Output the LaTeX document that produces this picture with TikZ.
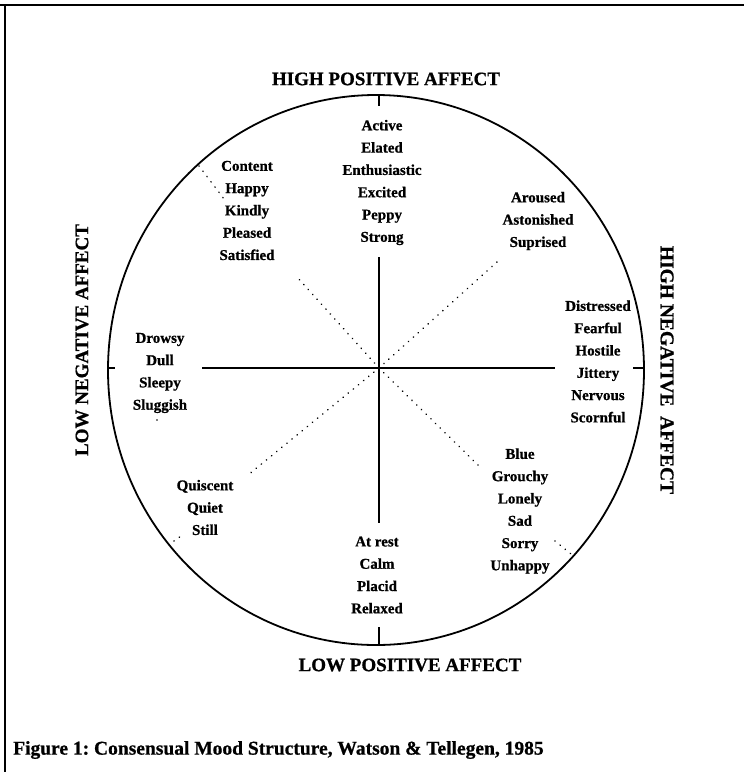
\documentclass[tikz,border=0pt]{standalone}
\usepackage{fontspec}
\setmainfont{Liberation Serif}[BoldFeatures={FakeBold=0.8}]
\frenchspacing
\begin{document}
\begin{tikzpicture}[x=1pt,y=-1pt,
  words/.style={font=\bfseries\fontsize{15}{22.3}\selectfont, align=center, inner sep=0pt},
  axislabel/.style={font=\bfseries\fontsize{19}{22}\selectfont, inner sep=0pt},
  rim/.style={line width=1.8pt},
  axisline/.style={line width=1.4pt},
  dotline/.style={line width=1.7pt, dash pattern=on 0.1pt off 6.5pt, line cap=round},
  frameline/.style={line width=2pt}]
\useasboundingbox (0,0) rectangle (744,772);

% frame edges (top and left)
\coordinate (fTL) at (5,5);
\coordinate (fTR) at (744,5);
\coordinate (fBL) at (5,772);
\draw[frameline] (0,5) -- (fTR);
\draw[frameline] (fTL) -- (fBL);

% the mood circle
\coordinate (C) at (376,370);
\draw[rim] (C) ellipse [x radius=268pt, y radius=275pt];

% axes
\coordinate (O) at (379,368);
\coordinate (vTop1) at (379,95);   \coordinate (vTop2) at (379,106);
\coordinate (vIn1) at (379,257);   \coordinate (vIn2) at (379,523);
\coordinate (vBot1) at (379,627);  \coordinate (vBot2) at (379,645);
\coordinate (hL1) at (107,368);    \coordinate (hL2) at (115,368);
\coordinate (hIn1) at (202,368);   \coordinate (hIn2) at (555,368);
\coordinate (hR1) at (633,368);    \coordinate (hR2) at (643,368);
\draw[axisline] (vTop1) -- (vTop2);
\draw[axisline] (vIn1) -- (vIn2);
\draw[axisline] (vBot1) -- (vBot2);
\draw[axisline] (hL1) -- (hL2);
\draw[axisline] (hIn1) -- (hIn2);
\draw[axisline] (hR1) -- (hR2);

% dotted diagonals
\coordinate (dUL) at (297,277);
\coordinate (dLR) at (478,465);
\coordinate (dLL) at (248,475);
\coordinate (dUR) at (497,262);
\draw[dotline] (O) -- (dUL);
\draw[dotline] (O) -- (dLR);
\draw[dotline] (O) -- (dLL);
\draw[dotline] (O) -- (dUR);
\coordinate (eUL1) at (199,166);  \coordinate (eUL2) at (224,199);
\coordinate (eLL1) at (174,541);  \coordinate (eLL2) at (181,536);
\coordinate (eLR1) at (555,541);  \coordinate (eLR2) at (571,554);
\draw[dotline] (eUL1) -- (eUL2);
\draw[dotline] (eLL1) -- (eLL2);
\draw[dotline] (eLR1) -- (eLR2);
\fill (157,420) circle (0.8pt);

% axis titles
\node[axislabel] (hpa) at (386,79) {HIGH POSITIVE AFFECT};
\node[axislabel] (lpa) at (410,665) {LOW POSITIVE AFFECT};
\node[axislabel, rotate=90] (lna) at (82,340) {LOW NEGATIVE AFFECT};
\node[axislabel, rotate=-90, font=\bfseries\fontsize{19.5}{22}\selectfont] (hna) at (667,370) {HIGH NEGATIVE\ \ AFFECT};

% mood terms
\node[words] (active) at (382,182.5) {Active\\Elated\\Enthusiastic\\Excited\\Peppy\\Strong};
\node[words] (content) at (247,210.5) {Content\\Happy\\Kindly\\Pleased\\Satisfied};
\node[words] (aroused) at (538,221) {Aroused\\Astonished\\Suprised};
\node[words] (distressed) at (598,361.5) {Distressed\\Fearful\\Hostile\\Jittery\\Nervous\\Scornful};
\node[words] (drowsy) at (160,373) {Drowsy\\Dull\\Sleepy\\Sluggish};
\node[words] (quiscent) at (205,507.5) {Quiscent\\Quiet\\Still};
\node[words] (atrest) at (377,575) {At rest\\Calm\\Placid\\Relaxed};
\node[words] (blue) at (520,511) {Blue\\Grouchy\\Lonely\\Sad\\Sorry\\Unhappy};

% caption
\node[anchor=west, inner sep=0pt, font=\bfseries\fontsize{19.5}{22}\selectfont] (caption) at (13,750)
  {Figure 1: Consensual Mood Structure, Watson \& Tellegen, 1985};
\end{tikzpicture}
\end{document}
